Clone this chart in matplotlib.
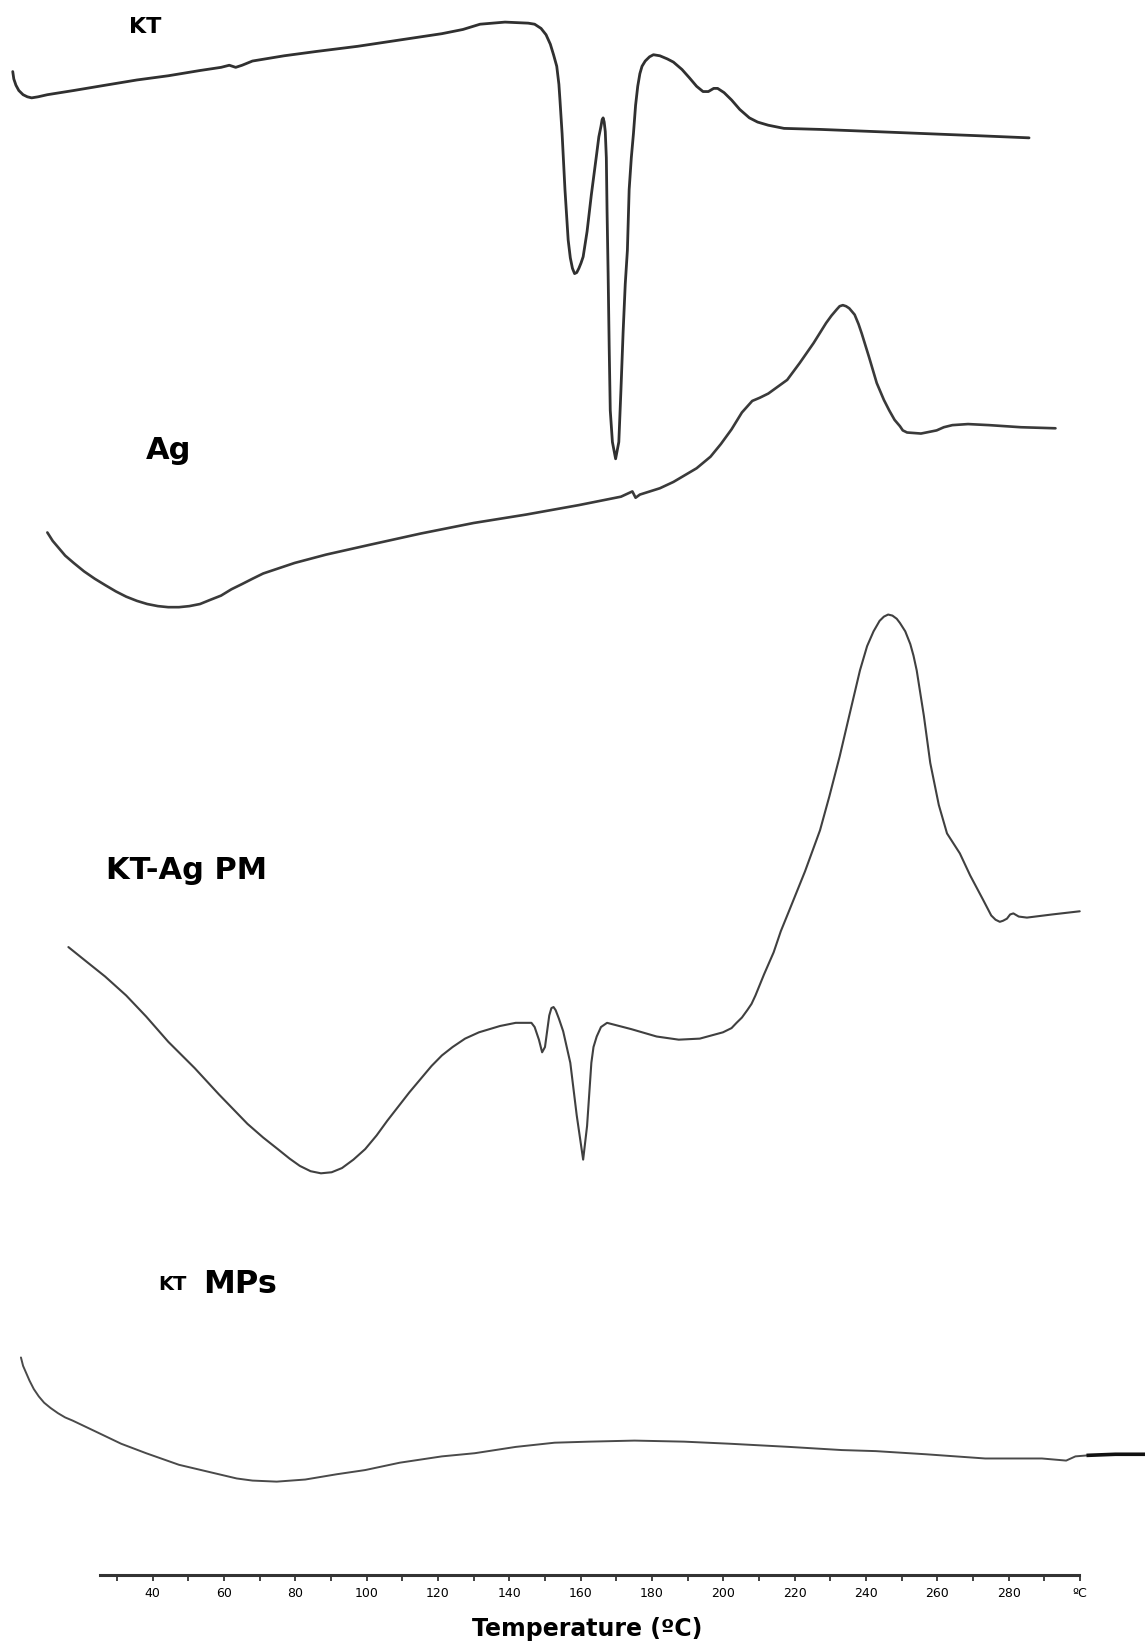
import numpy as np
import matplotlib
matplotlib.use("Agg")
import matplotlib.pyplot as plt

# DSC thermograms, temperature (degC) vs heat flow (stacked, arb. units)
kt_temp = [0.8, 1.1, 1.7, 2.5, 3.7, 4.9, 6.1, 7.9, 10.5, 17.9, 26.7, 35.6, 44.4, 53.3, 59.2,
           61.5, 63.3, 65.1, 68.0, 76.9, 85.7, 97.5, 109.3, 121.1, 127.0, 131.8, 138.8, 145.3,
           147.1, 148.9, 150.3, 151.5, 152.4, 153.3, 153.9, 154.2, 154.8, 155.6, 156.5, 157.1,
           157.7, 158.3, 158.9, 159.5, 160.1, 160.7, 161.8, 163.0, 164.5, 165.1, 165.7, 166.0,
           166.3, 166.6, 166.9, 167.2, 167.4, 167.7, 168.0, 168.3, 168.9, 169.8, 170.7, 171.3,
           171.9, 172.5, 173.1, 173.6, 174.2, 174.8, 175.4, 176.0, 176.6, 177.2, 178.1, 179.3,
           180.4, 182.2, 184.3, 186.0, 188.4, 190.5, 192.5, 194.3, 195.8, 197.3, 198.4, 200.2,
           202.3, 204.6, 207.3, 209.6, 212.6, 217.0, 227.3, 242.1, 256.8, 271.6, 285.7]
kt_hf = [15.00, 14.93, 14.87, 14.82, 14.78, 14.76, 14.75, 14.76, 14.78, 14.82, 14.87, 14.92,
         14.96, 15.01, 15.04, 15.06, 15.04, 15.06, 15.10, 15.15, 15.19, 15.24, 15.30, 15.36,
         15.40, 15.45, 15.47, 15.46, 15.45, 15.41, 15.35, 15.26, 15.16, 15.05, 14.88, 14.73,
         14.41, 13.88, 13.40, 13.23, 13.13, 13.08, 13.09, 13.13, 13.18, 13.24, 13.48, 13.83,
         14.22, 14.38, 14.48, 14.54, 14.56, 14.52, 14.43, 14.18, 13.68, 13.08, 12.38, 11.78,
         11.48, 11.32, 11.48, 11.98, 12.52, 12.98, 13.30, 13.88, 14.18, 14.41, 14.68, 14.86,
         14.98, 15.05, 15.10, 15.14, 15.16, 15.15, 15.12, 15.09, 15.02, 14.94, 14.86, 14.81,
         14.81, 14.84, 14.84, 14.80, 14.73, 14.64, 14.56, 14.52, 14.49, 14.46, 14.45, 14.43,
         14.41, 14.39, 14.37]

ag_temp = [10.5, 12.0, 13.5, 15.5, 17.9, 20.8, 23.8, 26.7, 29.7, 32.6, 35.6, 38.5, 41.5, 44.4,
           47.4, 50.3, 53.3, 56.2, 59.2, 62.1, 65.1, 68.0, 71.0, 75.4, 79.8, 88.7, 100.5, 115.2,
           130.0, 144.7, 159.5, 171.3, 174.5, 175.4, 176.6, 182.2, 186.0, 189.0, 192.5, 196.4,
           199.3, 202.3, 205.2, 208.1, 210.2, 212.6, 217.9, 221.4, 225.3, 228.8, 230.3, 231.8,
           232.6, 233.5, 234.4, 235.3, 236.8, 237.9, 238.8, 240.9, 243.0, 245.0, 246.5, 248.0,
           249.5, 250.3, 251.5, 255.4, 259.8, 261.8, 264.2, 268.6, 274.5, 283.4, 293.1]
ag_hf = [10.62, 10.54, 10.48, 10.40, 10.33, 10.25, 10.18, 10.12, 10.06, 10.01, 9.97, 9.94, 9.92,
         9.91, 9.91, 9.92, 9.94, 9.98, 10.02, 10.08, 10.13, 10.18, 10.23, 10.28, 10.33, 10.41,
         10.50, 10.61, 10.71, 10.79, 10.88, 10.96, 11.01, 10.95, 10.98, 11.04, 11.10, 11.16,
         11.23, 11.34, 11.46, 11.60, 11.76, 11.87, 11.90, 11.94, 12.07, 12.23, 12.42, 12.61,
         12.68, 12.74, 12.77, 12.78, 12.77, 12.75, 12.69, 12.60, 12.51, 12.28, 12.04, 11.88,
         11.78, 11.69, 11.63, 11.59, 11.57, 11.56, 11.59, 11.62, 11.64, 11.65, 11.64, 11.62,
         11.61]

pm_temp = [16.4, 20.8, 26.7, 32.6, 38.2, 44.4, 51.8, 58.6, 66.6, 71.0, 75.1, 78.4, 81.3, 84.3,
           87.2, 90.2, 93.1, 96.3, 99.6, 102.8, 105.8, 112.0, 118.2, 121.1, 124.1, 127.6, 131.5,
           137.4, 141.8, 146.2, 147.1, 148.3, 149.2, 150.0, 150.6, 151.2, 151.8, 152.4, 153.0,
           153.9, 155.1, 157.1, 158.9, 160.7, 161.8, 163.0, 163.6, 164.5, 165.7, 167.4, 174.2,
           181.3, 187.5, 193.4, 199.9, 202.3, 203.7, 205.2, 206.7, 207.9, 209.0, 211.4, 214.1,
           216.1, 218.5, 222.9, 227.1, 229.7, 232.6, 235.3, 238.3, 240.3, 242.1, 243.8, 245.0,
           246.2, 247.4, 248.6, 249.5, 251.0, 252.4, 253.3, 254.2, 256.2, 258.0, 260.4, 262.7,
           266.3, 269.2, 272.8, 275.1, 276.3, 277.5, 278.4, 279.5, 280.4, 281.3, 282.8, 285.1,
           292.2, 299.9]
pm_hf = [6.68, 6.56, 6.40, 6.22, 6.02, 5.78, 5.53, 5.28, 5.00, 4.87, 4.76, 4.67, 4.60, 4.55,
         4.53, 4.54, 4.58, 4.66, 4.76, 4.89, 5.03, 5.30, 5.55, 5.65, 5.73, 5.81, 5.87, 5.93,
         5.96, 5.96, 5.92, 5.80, 5.68, 5.73, 5.88, 6.03, 6.10, 6.11, 6.08, 6.00, 5.88, 5.58,
         5.08, 4.66, 4.98, 5.58, 5.73, 5.83, 5.92, 5.96, 5.90, 5.83, 5.80, 5.81, 5.87, 5.91,
         5.96, 6.01, 6.08, 6.14, 6.22, 6.42, 6.63, 6.83, 7.03, 7.40, 7.79, 8.11, 8.49, 8.88,
         9.31, 9.54, 9.68, 9.78, 9.82, 9.84, 9.83, 9.80, 9.76, 9.68, 9.56, 9.45, 9.31, 8.88,
         8.43, 8.03, 7.76, 7.57, 7.36, 7.13, 6.98, 6.94, 6.92, 6.93, 6.95, 6.99, 7.00, 6.97,
         6.96, 6.99, 7.02]

mp_temp = [3.1, 3.7, 4.6, 5.5, 6.7, 8.1, 9.6, 11.4, 13.5, 15.5, 17.6, 23.8, 31.2, 38.2, 47.4,
           58.6, 63.6, 68.0, 74.8, 82.8, 91.6, 99.6, 109.3, 121.1, 130.3, 141.8, 152.7, 162.4,
           175.1, 189.0, 201.9, 218.5, 233.2, 242.7, 256.8, 273.4, 289.3, 296.1, 298.7, 302.3,
           309.9, 318.2]
mp_hf = [2.78, 2.70, 2.63, 2.56, 2.48, 2.41, 2.35, 2.30, 2.25, 2.21, 2.18, 2.08, 1.96, 1.87,
         1.76, 1.67, 1.63, 1.61, 1.60, 1.62, 1.67, 1.71, 1.78, 1.84, 1.87, 1.93, 1.97, 1.98,
         1.99, 1.98, 1.96, 1.93, 1.90, 1.89, 1.86, 1.82, 1.82, 1.80, 1.84, 1.85, 1.86, 1.86]

major_ticks = [40, 60, 80, 100, 120, 140, 160, 180, 200, 220, 240, 260, 280, 300]
major_labels = ["40", "60", "80", "100", "120", "140", "160", "180", "200", "220", "240",
                "260", "280", "\u00baC"]
minor_ticks = [30, 50, 70, 90, 110, 130, 150, 170, 190, 210, 230, 250, 270, 290]

fig = plt.figure(figsize=(11.45, 16.5), dpi=100)
ax = fig.add_axes([0, 0, 1, 1])
ax.set_xlim(-2.77, 318.2)
ax.set_ylim(0, 15.68)

line_kw = dict(solid_joinstyle="round", solid_capstyle="round")
ax.plot(kt_temp, kt_hf, color="#303030", lw=2.0, **line_kw)
ax.plot(ag_temp, ag_hf, color="#3a3a3a", lw=1.9, **line_kw)
ax.plot(pm_temp, pm_hf, color="#404040", lw=1.5, **line_kw)
ax.plot(mp_temp, mp_hf, color="#4a4a4a", lw=1.4, **line_kw)
ax.plot(mp_temp[-3:], mp_hf[-3:], color="#111111", lw=2.6)

# sample labels
ax.text(38.0, 15.42, "KT", fontsize=16, fontweight="bold", ha="center", va="center")
ax.text(44.5, 11.40, "Ag", fontsize=22, fontweight="bold", ha="center", va="center")
ax.text(49.5, 7.41, "KT-Ag PM", fontsize=22, fontweight="bold", ha="center", va="center")
ax.text(45.5, 3.47, "KT", fontsize=14, fontweight="bold", ha="center", va="center")
ax.text(64.5, 3.47, "MPs", fontsize=23, fontweight="bold", ha="center", va="center")

# temperature axis
for side in ["left", "right", "top"]:
    ax.spines[side].set_visible(False)
ax.spines["bottom"].set_position(("data", 0.71))
ax.spines["bottom"].set_bounds(25.3, 299.6)
ax.spines["bottom"].set_linewidth(2.2)
ax.spines["bottom"].set_color("#333333")
ax.set_yticks([])
ax.set_xticks(major_ticks)
ax.set_xticklabels(major_labels, fontsize=9)
ax.set_xticks(minor_ticks, minor=True)
ax.tick_params(axis="x", which="both", direction="out", length=4.5, width=1.3,
               color="#333333", pad=4)
ax.text(161.8, 0.20, "Temperature (\u00baC)", fontsize=17, fontweight="bold",
        ha="center", va="center")

fig.savefig("out.png", dpi=100)
